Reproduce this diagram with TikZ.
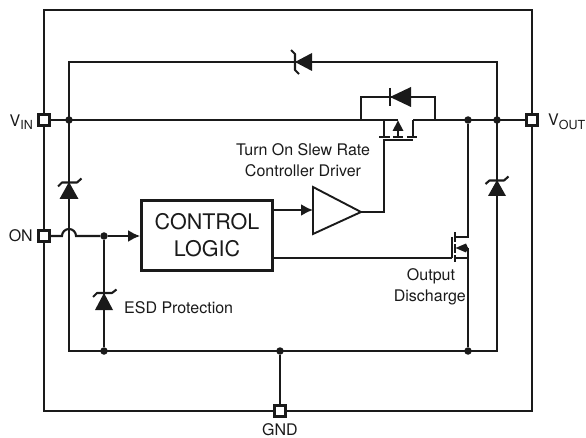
\documentclass[tikz,border=0pt]{standalone}
\usepackage{fontspec}
\setmainfont{TeX Gyre Heros}
\usetikzlibrary{arrows.meta}
\definecolor{ink}{HTML}{1A1A1A}
\tikzset{
  wire/.style={draw=ink,line width=2.1pt},
  thinwire/.style={draw=ink,line width=1.9pt},
  pad/.style={draw=ink,fill=white,line width=2.3pt,minimum size=11pt,inner sep=0pt,rectangle},
  junction/.style={circle,fill=ink,minimum size=7.5pt,inner sep=0pt},
  solid part/.style={fill=ink,draw=none},
  lbl/.style={text=ink,font=\fontsize{16}{19}\selectfont,inner sep=0pt,align=center},
  sig/.style={wire,-{Latex[length=12pt,width=12pt]}},
}
\begin{document}
\begin{tikzpicture}[x=1pt,y=-1pt]
\useasboundingbox (0,0) rectangle (586,438);
% named points
\coordinate (tl) at (44,10);
\coordinate (tr) at (532,10);
\coordinate (bl) at (44,411);
\coordinate (br) at (532,411);
\coordinate (topL) at (69,62);
\coordinate (topR) at (497,62);
\coordinate (botL) at (69,351);
\coordinate (botR) at (497,351);
% outer frame
\draw[wire] (tl) -- (tr) -- (br) -- (bl) -- cycle;
% clamp rail
\draw[wire] (botL) -- (topL) -- (topR) -- (botR) -- cycle;
% main rail left part and right part
\coordinate (pmosS) at (398,120);
\coordinate (pmosD) at (413,120);
\coordinate (hopL) at (62,236);
\node[pad] (vin) at (44,120) {};
\node[pad] (von) at (44,236) {};
\node[pad] (vout) at (532,120) {};
\node[pad] (gnd) at (280,411) {};
\draw[wire] (vin) -- (pmosS);
\draw[wire] (pmosD) -- (vout);
\node[junction] (j1) at (69,120) {};
\node[junction] (j2) at (468,120) {};
\node[junction] (j3) at (497,120) {};
\node[junction] (j4) at (104,236) {};
\node[junction] (j5) at (104,351) {};
\node[junction] (j6) at (280,351) {};
\node[junction] (j7) at (468,351) {};
\draw[wire] (gnd) -- (j6);
% control logic
\node[draw=ink,line width=2.8pt,minimum width=131pt,minimum height=70pt,inner sep=0pt,align=center,text=ink,font=\fontsize{21.5}{27}\selectfont] (ctl) at (207,235.5) {CONTROL\\LOGIC};
% ON line with hop
\draw[wire] (von) -- (hopL) arc[start angle=180,end angle=0,radius=7pt] -- (j4);
\draw[sig] (j4) -- (ctl.west |- j4);
\draw[wire] (j4) -- (j5);
% driver
\coordinate (drvA) at (313,187);
\coordinate (drvB) at (313,234);
\node[inner sep=0pt,minimum size=0pt] (drvOut) at (361,212) {};
\draw[thinwire,line join=miter] (drvA) -- (drvOut.center) -- (drvB) -- cycle;
\coordinate (ctlOut) at (ctl.east |- 0,210);
\draw[sig] (ctlOut) -- (313,210);
\coordinate (gateL) at (384,212);
\coordinate (gateT) at (384,140);
\coordinate (gateE) at (413,140);
\draw[wire] (drvOut.center) -- (gateL) -- (gateT) -- (gateE);
% PMOS
\draw[wire] (384,120) -- (384,137);
\draw[wire] (pmosD) -- (413,137);
\draw[wire] (379,137) -- (389.5,137) (393,137) -- (403,137) (407,137) -- (417,137);
\draw[wire] (398,131) -- (398,137);
\path[solid part] (398,120.5) -- (403.5,131) -- (392.5,131) -- cycle;
% body diode
\coordinate (bdL) at (361,120);
\coordinate (bdR) at (435,120);
\draw[wire] (bdL) -- (361,97) -- (435,97) -- (bdR);
\path[solid part] (390,97) -- (411,87) -- (411,107) -- cycle;
\draw[wire] (390,88) -- (390,106);
% top zener
\path[solid part] (295,62) -- (312,53) -- (312,71) -- cycle;
\draw[wire,line join=round] (291,50) -- (295,54) -- (295,70) -- (299,74);
% left zener
\path[solid part] (69,182) -- (78.5,199) -- (59.5,199) -- cycle;
\draw[wire,line join=round] (58,186.5) -- (62,182.5) -- (77,182.5) -- (81.5,178.5);
% ESD zener
\path[solid part] (104,293) -- (113,310) -- (95,310) -- cycle;
\draw[wire,line join=round] (93,297) -- (97,293) -- (112,293) -- (116.5,289.5);
% right zener
\path[solid part] (497,180) -- (506,196) -- (488,196) -- cycle;
\draw[wire,line join=round] (485.5,184) -- (489.5,180.5) -- (504,180.5) -- (508.5,176.5);
% NMOS
\coordinate (nmosT) at (468,237);
\coordinate (nmosB) at (468,258);
\draw[wire] (j2) -- (nmosT) -- (455,237);
\draw[wire] (nmosB) -- (j7);
\draw[wire] (455,258) -- (nmosB);
\draw[wire] (468,248) -- (nmosB);
\draw[wire] (460,248) -- (468,248);
\path[solid part] (455.5,248) -- (466,243.5) -- (468,248) -- (466,252.5) -- cycle;
\draw[wire] (455,232.5) -- (455,242.5) (455,244.5) -- (455,253.5) (455,255.5) -- (455,262);
\draw[wire] (452,237) -- (452,258);
\draw[wire] (ctl.east |- 0,258) -- (452,258);
% texts
\node[lbl,anchor=east] (tvin) at (33,122) {V\raisebox{-3.5pt}{\fontsize{12.5}{14}\selectfont IN}};
\node[lbl,anchor=east] (ton) at (33,236) {ON};
\node[lbl,anchor=west] (tvout) at (548,122) {V\raisebox{-3.5pt}{\fontsize{12.5}{14}\selectfont OUT}};
\node[lbl] (tgnd) at (280,430) {GND};
\node[lbl,anchor=west] (tesd) at (124,308) {ESD Protection};
\node[lbl] (tslew1) at (303,150) {Turn On Slew Rate};
\node[lbl] (tslew2) at (303,171) {Controller Driver};
\node[lbl] (tout1) at (431,276) {Output};
\node[lbl,anchor=east] (tout2) at (466,297) {Discharge};
\end{tikzpicture}
\end{document}
